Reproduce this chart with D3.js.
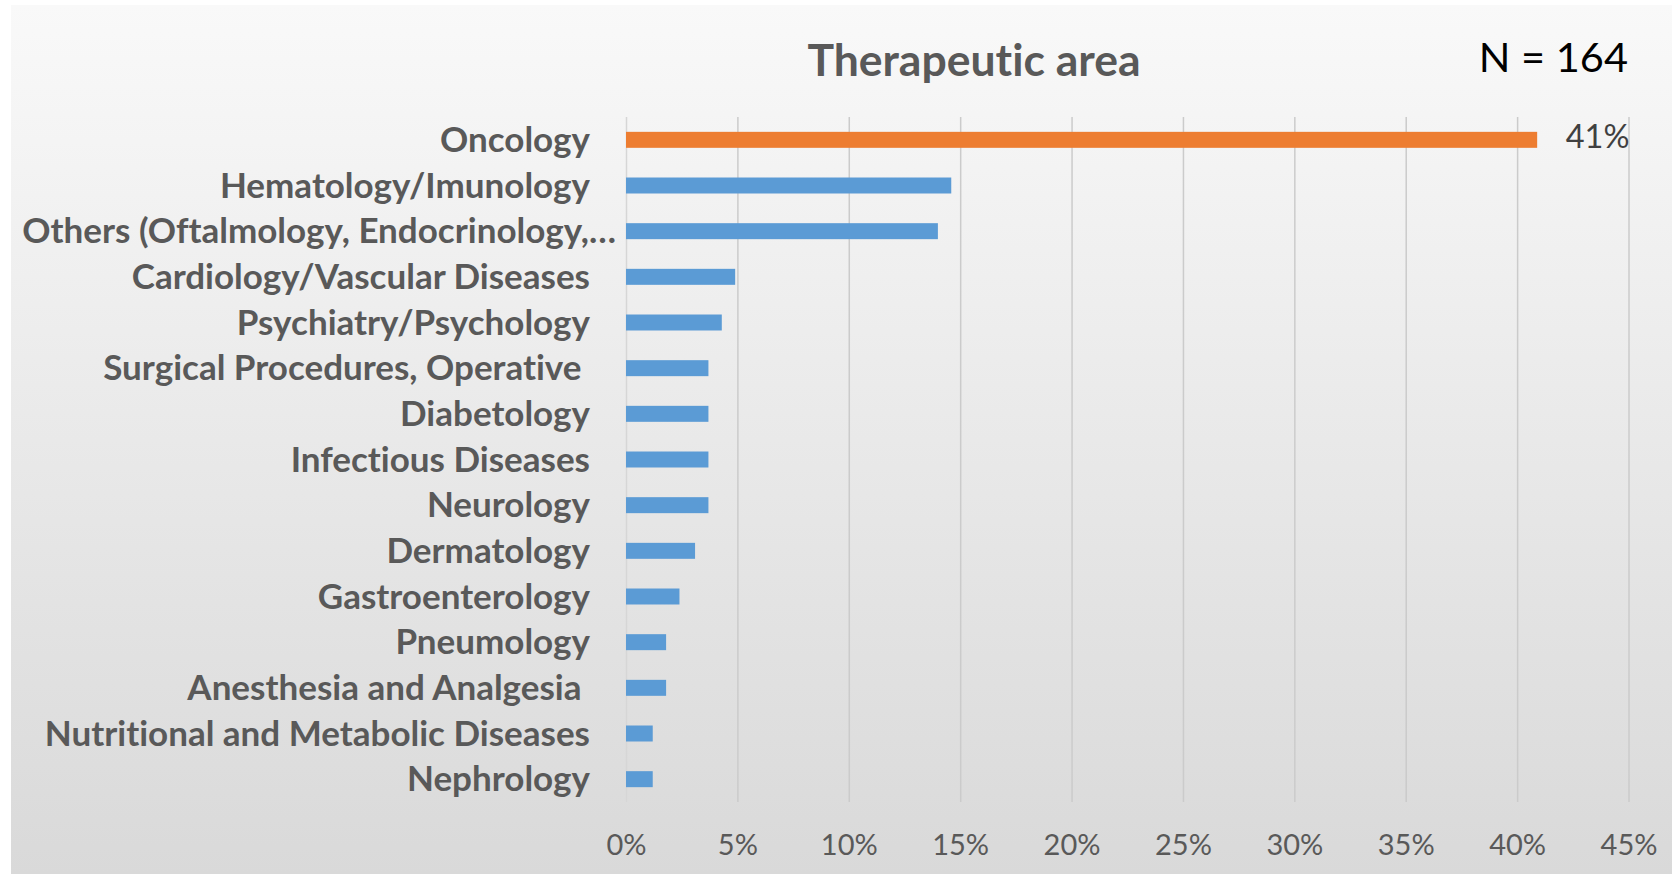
<!DOCTYPE html>
<html>
<head>
<meta charset="utf-8">
<script src="https://cdn.jsdelivr.net/npm/d3@7"></script>
<style>
  html, body { margin: 0; padding: 0; background: #ffffff; }
  svg { display: block; }
  text { font-family: Lato, "Open Sans", sans-serif; font-variant-ligatures: none; font-feature-settings: "liga" 0, "clig" 0, "dlig" 0; }
</style>
</head>
<body>
<svg id="chart" width="1672" height="874"></svg>
<script>
// ---- data ----
const categories = [
  "Oncology",
  "Hematology/Imunology",
  "Others (Oftalmology, Endocrinology,…",
  "Cardiology/Vascular Diseases",
  "Psychiatry/Psychology",
  "Surgical Procedures, Operative ",
  "Diabetology",
  "Infectious Diseases",
  "Neurology",
  "Dermatology",
  "Gastroenterology",
  "Pneumology",
  "Anesthesia and Analgesia ",
  "Nutritional and Metabolic Diseases",
  "Nephrology"
];
const values = [0.409, 0.146, 0.140, 0.049, 0.043, 0.037, 0.037, 0.037, 0.037, 0.031, 0.024, 0.018, 0.018, 0.012, 0.012];
const tickValues = [0, 0.05, 0.10, 0.15, 0.20, 0.25, 0.30, 0.35, 0.40, 0.45];
const highlightCategory = "Oncology";
const titleText = "Therapeutic area";
const sampleText = "N = 164";

// ---- layout ----
const W = 1672, H = 874;
const svg = d3.select("#chart");

const defs = svg.append("defs");
const grad = defs.append("linearGradient").attr("id", "bg").attr("x1", 0).attr("y1", 0).attr("x2", 0).attr("y2", 1);
grad.append("stop").attr("offset", "0%").attr("stop-color", "#f9f9f9");
grad.append("stop").attr("offset", "100%").attr("stop-color", "#d9d9d9");

svg.append("rect").attr("x", 11).attr("y", 5).attr("width", W - 11).attr("height", H - 5).attr("fill", "url(#bg)");

const x = d3.scaleLinear().domain([0, 0.45]).range([626, 1628.5]);
const y = d3.scaleBand().domain(categories).range([117, 802]).paddingInner(0.65).paddingOuter(0.325);

// gridlines
const xAxis = d3.axisBottom(x).tickValues(tickValues).tickSize(-(802 - 117)).tickFormat(d3.format(".0%"));
const gx = svg.append("g").attr("transform", "translate(0,802)").call(xAxis);
gx.select(".domain").remove();
gx.selectAll(".tick line").attr("stroke", "#cbcbcb").attr("stroke-width", 1.5);
gx.selectAll(".tick").filter(d => d === 0).select("line").attr("stroke", "#d6d6d6");
gx.selectAll(".tick text")
  .attr("y", 43).attr("dy", "0.35em")
  .attr("fill", "#595959")
  .style("font-size", "29px")
  .style("font-family", "Lato, sans-serif");

// bars
svg.append("g").selectAll("rect").data(categories).join("rect")
  .attr("x", x(0))
  .attr("y", d => y(d))
  .attr("width", (d, i) => x(values[i]) - x(0))
  .attr("height", y.bandwidth())
  .attr("fill", d => d === highlightCategory ? "#ed7d31" : "#5b9bd5");

// category labels
const yAxis = d3.axisLeft(y).tickSize(0).tickPadding(0);
const gy = svg.append("g").attr("transform", "translate(590,0)").call(yAxis);
gy.select(".domain").remove();
gy.selectAll(".tick text")
  .attr("fill", "#595959")
  .attr("dy", "0.35em")
  .style("font-size", "35px")
  .style("font-weight", "bold")
  .style("white-space", "pre")
  .style("font-family", "Lato, sans-serif")
  .attr("x", d => d.endsWith("…") ? 26 : 0);

// data label for highlighted bar
const hi = categories.indexOf(highlightCategory);
svg.append("text")
  .attr("x", x(0.45) + 1)
  .attr("y", y(highlightCategory) + y.bandwidth() / 2 - 3)
  .attr("dy", "0.35em")
  .attr("text-anchor", "end")
  .attr("fill", "#404040")
  .style("font-size", "32.5px")
  .text(d3.format(".0%")(values[hi]));

// title
svg.append("text")
  .attr("x", 974).attr("y", 76)
  .attr("text-anchor", "middle")
  .attr("fill", "#595959")
  .style("font-size", "44.5px")
  .style("font-weight", "bold")
  .text(titleText);

svg.append("text")
  .attr("x", 1628).attr("y", 72)
  .attr("text-anchor", "end")
  .attr("fill", "#000000")
  .style("font-size", "41.5px")
  .text(sampleText);
</script>
</body>
</html>
